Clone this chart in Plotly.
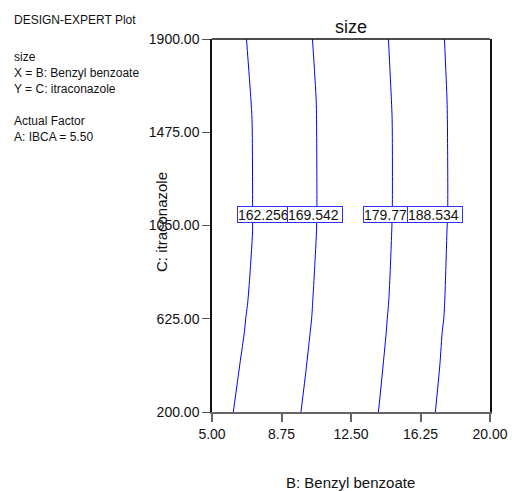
import plotly.graph_objects as go

# Contour levels of the "size" response (B vs C, A: IBCA = 5.50)
levels = [162.256, 169.542, 179.77, 188.534]
label_text = ["162.256", "169.542", "179.77", "188.534"]

# C: itraconazole values at which each contour's B position was read
c_vals = [1900, 1623, 1532, 1134, 1029, 710, 619, 573, 410, 200]

# B: Benzyl benzoate positions of each contour line
b_162 = [6.86, 7.10, 7.16, 7.19, 7.19, 6.94, 6.81, 6.76, 6.49, 6.15]
b_169 = [10.42, 10.62, 10.64, 10.66, 10.64, 10.44, 10.37, 10.31, 10.10, 9.80]
b_179 = [14.52, 14.68, 14.72, 14.73, 14.70, 14.54, 14.45, 14.41, 14.23, 13.98]
b_188 = [17.54, 17.68, 17.70, 17.72, 17.68, 17.56, 17.50, 17.43, 17.29, 17.05]
contours = [b_162, b_169, b_179, b_188]

# label box positions (B, C)
label_b = [7.85, 10.58, 14.64, 17.05]
label_c = [1098, 1098, 1098, 1098]

x_ticks = [5.00, 8.75, 12.50, 16.25, 20.00]
y_ticks = [200, 625, 1050, 1475, 1900]

W, H = 512, 491
L, R, T, B = 212, 22, 39, 79
PW, PH = W - L - R, H - T - B


def px_to_paper(xp, yp):
    """Pixel position in the page -> paper coordinates of the plot area."""
    return (xp - L) / PW, (H - B - yp) / PH


fig = go.Figure()
for bs in contours:
    fig.add_trace(go.Scatter(
        x=bs, y=c_vals, mode="lines",
        line=dict(color="#0000ff", width=1, shape="spline", smoothing=0.8),
        hoverinfo="skip", showlegend=False,
    ))

font_main = "Liberation Sans, Arial, sans-serif"

annotations = []
for bx, cy, t in zip(label_b, label_c, label_text):
    annotations.append(dict(
        x=bx, y=cy, xref="x", yref="y", text=t, showarrow=False,
        width=54, height=15, align="left",
        font=dict(family=font_main, size=14, color="#111111"),
        bgcolor="white", bordercolor="#3030ff", borderwidth=1, borderpad=0,
    ))

# information block on the left
info_lines = [
    ("DESIGN-EXPERT Plot", 20),
    ("size", 57),
    ("X = B: Benzyl benzoate", 73),
    ("Y = C: itraconazole", 89),
    ("Actual Factor", 121),
    ("A: IBCA = 5.50", 137),
]
for txt, ypx in info_lines:
    xp, yp = px_to_paper(12, ypx)
    annotations.append(dict(
        x=xp, y=yp, xref="paper", yref="paper",
        xanchor="left", yanchor="middle", text=txt, showarrow=False,
        font=dict(family=font_main, size=12, color="#111111"),
    ))

# axis titles
xp, yp = px_to_paper(350, 483)
annotations.append(dict(
    x=xp, y=yp, xref="paper", yref="paper", xanchor="center", yanchor="middle",
    text="B: Benzyl benzoate", showarrow=False,
    font=dict(family=font_main, size=15, color="#111111"),
))
xp, yp = px_to_paper(161, 222)
annotations.append(dict(
    x=xp, y=yp, xref="paper", yref="paper", xanchor="center", yanchor="middle",
    text="C: itraconazole", showarrow=False, textangle=-90,
    font=dict(family=font_main, size=15, color="#111111"),
))

fig.update_layout(
    width=W, height=H,
    margin=dict(l=L, r=R, t=T, b=B),
    paper_bgcolor="white", plot_bgcolor="white",
    font=dict(family=font_main, color="#111111"),
    title=dict(text="size", x=(L + W - R) / 2 / W, xanchor="center",
               y=1 - 27 / H, yanchor="middle", yref="container",
               font=dict(family=font_main, size=18, color="#111111")),
    xaxis=dict(
        range=[5, 20], tickvals=x_ticks, automargin=False,
        ticktext=[f"{v:.2f}" for v in x_ticks],
        showgrid=False, zeroline=False,
        showline=True, linecolor="#666666", linewidth=1.5,
        ticks="outside", ticklen=8, tickcolor="#666666", tickwidth=1.5,
        tickfont=dict(family=font_main, size=14, color="#111111"),
    ),
    yaxis=dict(
        range=[200, 1900], tickvals=y_ticks, automargin=False,
        ticktext=[f"{v:.2f}" for v in y_ticks],
        showgrid=False, zeroline=False,
        showline=True, linecolor="#111111", linewidth=1.5, mirror=True,
        ticks="outside", ticklen=8, tickcolor="#555555", tickwidth=1,
        tickfont=dict(family=font_main, size=14, color="#111111"),
    ),
    annotations=annotations,
    shapes=[dict(type="line", xref="paper", yref="paper", x0=0, x1=1, y0=1, y1=1,
                 line=dict(color="#111111", width=1.5))],
)

fig.write_html("out.html")
